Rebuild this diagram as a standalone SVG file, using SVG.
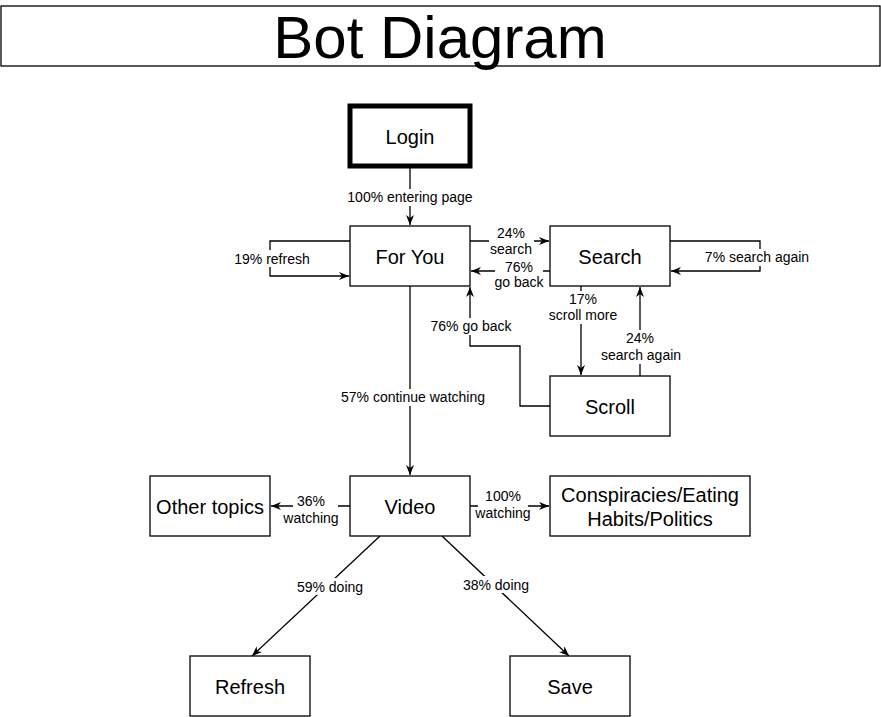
<svg xmlns="http://www.w3.org/2000/svg" width="881" height="717" viewBox="0 0 881 717">
<style>
  .box { fill: #ffffff; stroke: #000000; stroke-width: 1.3; }
  .thick { fill: #ffffff; stroke: #000000; stroke-width: 5; }
  .nt { font-family: "Liberation Sans", Arial, sans-serif; font-size: 20px; fill: #000000; text-anchor: middle; }
  .title { font-family: "Liberation Sans", Arial, sans-serif; font-size: 60px; fill: #000000; text-anchor: middle; }
  .edge { fill: none; stroke: #000000; stroke-width: 1.3; marker-end: url(#arrow); }
  .lbg { fill: #ffffff; stroke: none; }
  .lt { font-family: "Liberation Sans", Arial, sans-serif; font-size: 14px; fill: #000000; text-anchor: middle; }
</style>
<defs>
  <marker id="arrow" viewBox="0 0 10 8" markerWidth="10" markerHeight="8" refX="10" refY="4" orient="auto" markerUnits="userSpaceOnUse">
    <path d="M0,0 L10,4 L0,8 L3,4 Z" fill="#000000"/>
  </marker>
</defs>
<rect width="881" height="717" fill="#ffffff"/>

<g id="title">
  <rect class="box" x="1" y="6" width="879" height="60"/>
  <text class="title" x="440" y="58">Bot Diagram</text>
</g>

<g id="connectors">
  <path class="edge" d="M410,166 L410,225"/>
  <path class="edge" d="M470,241 L549,241"/>
  <path class="edge" d="M550,271 L471,271"/>
  <path class="edge" d="M350,241 L270,241 L270,276 L349,276"/>
  <path class="edge" d="M670,241 L760,241 L760,271 L671,271"/>
  <path class="edge" d="M581,286 L581,375"/>
  <path class="edge" d="M640,376 L640,287"/>
  <path class="edge" d="M550,406 L520,406 L520,346 L470,346 L470,287"/>
  <path class="edge" d="M410,286 L410,475"/>
  <path class="edge" d="M350,506 L271,506"/>
  <path class="edge" d="M470,506 L549,506"/>
  <path class="edge" d="M380,536 L252,656"/>
  <path class="edge" d="M442,536 L569,656"/>

  <g id="labels">
    <rect class="lbg" x="347" y="189" width="126" height="17"/>
    <text class="lt" x="410" y="202">100% entering page</text>

    <rect class="lbg" x="489" y="226" width="45" height="32"/>
    <text class="lt" x="511" y="238">24%</text>
    <text class="lt" x="511" y="254">search</text>

    <rect class="lbg" x="495" y="260" width="48" height="32"/>
    <text class="lt" x="519" y="272">76%</text>
    <text class="lt" x="519" y="287">go back</text>

    <rect class="lbg" x="234" y="250" width="77" height="17"/>
    <text class="lt" x="272" y="264">19% refresh</text>

    <rect class="lbg" x="705" y="249" width="105" height="17"/>
    <text class="lt" x="757" y="262">7% search again</text>

    <rect class="lbg" x="548" y="291" width="70" height="33"/>
    <text class="lt" x="583" y="304">17%</text>
    <text class="lt" x="583" y="320">scroll more</text>

    <rect class="lbg" x="601" y="330" width="81" height="34"/>
    <text class="lt" x="640" y="343">24%</text>
    <text class="lt" x="641" y="360">search again</text>

    <rect class="lbg" x="431" y="318" width="81" height="17"/>
    <text class="lt" x="471" y="331">76% go back</text>

    <rect class="lbg" x="341" y="389" width="145" height="17"/>
    <text class="lt" x="413" y="402">57% continue watching</text>

    <rect class="lbg" x="293" y="492" width="45" height="30"/>
    <text class="lt" x="311" y="506">36%</text>
    <text class="lt" x="311" y="523">watching</text>

    <rect class="lbg" x="478" y="488" width="50" height="34"/>
    <text class="lt" x="503" y="501">100%</text>
    <text class="lt" x="503" y="518">watching</text>

    <rect class="lbg" x="296" y="578" width="68" height="17"/>
    <text class="lt" x="330" y="592">59% doing</text>

    <rect class="lbg" x="462" y="576" width="68" height="17"/>
    <text class="lt" x="496" y="590">38% doing</text>
  </g>
</g>

<g id="login">
  <rect class="thick" x="350" y="106" width="120" height="60"/>
  <text class="nt" x="410" y="144">Login</text>
</g>
<g id="foryou">
  <rect class="box" x="350" y="226" width="120" height="60"/>
  <text class="nt" x="410" y="264">For You</text>
</g>
<g id="search">
  <rect class="box" x="550" y="226" width="120" height="60"/>
  <text class="nt" x="610" y="264">Search</text>
</g>
<g id="scroll">
  <rect class="box" x="550" y="376" width="120" height="60"/>
  <text class="nt" x="610" y="414">Scroll</text>
</g>
<g id="video">
  <rect class="box" x="350" y="476" width="120" height="60"/>
  <text class="nt" x="410" y="514">Video</text>
</g>
<g id="othertopics">
  <rect class="box" x="150" y="476" width="120" height="60"/>
  <text class="nt" x="210" y="514">Other topics</text>
</g>
<g id="conspiracies">
  <rect class="box" x="550" y="476" width="200" height="60"/>
  <text class="nt" x="650" y="502">Conspiracies/Eating</text>
  <text class="nt" x="650" y="526">Habits/Politics</text>
</g>
<g id="refresh">
  <rect class="box" x="190" y="656" width="120" height="60"/>
  <text class="nt" x="250" y="694">Refresh</text>
</g>
<g id="save">
  <rect class="box" x="510" y="656" width="120" height="60"/>
  <text class="nt" x="570" y="694">Save</text>
</g>
</svg>
